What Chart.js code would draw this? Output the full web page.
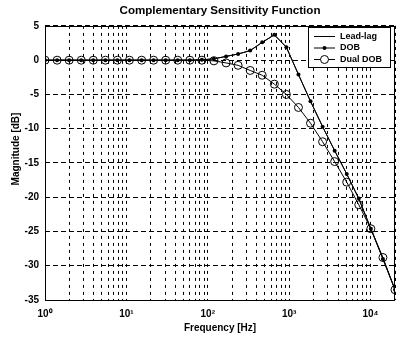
<!DOCTYPE html>
<html>
<head>
<meta charset="utf-8">
<script src="https://cdn.jsdelivr.net/npm/chart.js@4"></script>
<style>
  html, body { margin: 0; padding: 0; background: #fff; }
</style>
</head>
<body>
<canvas id="sensChart" width="403" height="337"></canvas>
<script>
// frequency points of the sweep (Hz)
const freqHz = [1, 1.41, 1.98, 2.79, 3.92, 5.52, 7.76, 10.9, 15.4, 21.6,
  30.4, 42.8, 60.2, 84.7, 119, 168, 236, 332, 467, 658,
  925, 1302, 1831, 2577, 3626, 5103, 7180, 10101, 14213, 20000];
// magnitudes in dB
const leadLag = [0, 0, 0, 0, 0, 0, 0, 0, 0, 0,
  0, 0, 0, 0.05, 0.2, 0.55, 0.9, 1.4, 2.6, 3.7,
  1.9, -2.1, -6.0, -9.7, -13.2, -16.6, -20.2, -24.6, -29.0, -33.5];
const dob = [0, 0, 0, 0, 0, 0, 0, 0, 0, 0,
  0, 0, 0, 0.05, 0.2, 0.55, 0.9, 1.4, 2.6, 3.7,
  1.9, -2.1, -6.0, -9.7, -13.2, -16.6, -20.2, -24.6, -29.0, -33.5];
const dualDob = [0, 0, 0, 0, 0, 0, 0, 0, 0, 0,
  0, 0, 0, 0, -0.1, -0.4, -0.75, -1.5, -2.2, -3.5,
  -5.0, -6.9, -9.2, -11.9, -14.8, -17.8, -21.1, -24.6, -28.8, -33.5];

const xDecades = [1, 10, 100, 1000, 10000];
const xDecadeLabels = ['10\u2070', '10\u00B9', '10\u00B2', '10\u00B3', '10\u2074'];
const xMax = 20000;
const yTicks = [5, 0, -5, -10, -15, -20, -25, -30, -35];
const yLabel = 'Magnitude [dB]';

const fontFam = '"Liberation Sans", Arial, Helvetica, sans-serif';

// minor ticks 1..9 in every decade
const xTickValues = [];
xDecades.forEach(d => {
  for (let m = 1; m <= 9; m++) {
    if (d * m <= xMax) xTickValues.push(d * m);
  }
});
xTickValues.push(xMax);

function toPoints(vals) {
  return vals.map((v, i) => ({ x: freqHz[i], y: v }));
}

// frame around the axes, y label and matlab style legend box
const framePlugin = {
  id: 'frameAndLegend',
  afterDraw(chart) {
    const { ctx, chartArea: a } = chart;
    ctx.save();
    ctx.strokeStyle = '#000';
    ctx.lineWidth = 1;
    ctx.setLineDash([]);
    ctx.strokeRect(Math.round(a.left) + 0.5, Math.round(a.top) + 0.5,
      Math.round(a.right - a.left) - 1, Math.round(a.bottom - a.top));

    // y axis label (sits a bit above the axis centre in the original)
    ctx.save();
    ctx.translate(16, 149);
    ctx.rotate(-Math.PI / 2);
    ctx.font = 'bold 10px ' + fontFam;
    ctx.fillStyle = '#000';
    ctx.textAlign = 'center';
    ctx.textBaseline = 'middle';
    ctx.fillText(yLabel, 0, 0);
    ctx.restore();

    // legend
    const bx = 308.5, by = 27.5, bw = 82, bh = 40;
    ctx.fillStyle = '#fff';
    ctx.fillRect(bx, by, bw, bh);
    ctx.strokeRect(bx, by, bw, bh);
    ctx.font = 'bold 9px ' + fontFam;
    ctx.textBaseline = 'middle';
    ctx.textAlign = 'left';
    const rows = [36, 47.5, 59];
    chart.data.datasets.forEach((ds, i) => {
      const y = rows[i];
      ctx.beginPath();
      ctx.moveTo(314, y + 0.5);
      ctx.lineTo(335, y + 0.5);
      ctx.stroke();
      if (ds.pointRadius > 0) {
        ctx.beginPath();
        ctx.arc(324.5, y + 0.5, ds.pointRadius, 0, Math.PI * 2);
        if (ds.pointBackgroundColor === '#000') {
          ctx.fillStyle = '#000';
          ctx.fill();
        } else {
          ctx.fillStyle = '#fff';
          ctx.fill();
          ctx.stroke();
        }
      }
      ctx.fillStyle = '#000';
      ctx.fillText(ds.label, 340, y + 0.5);
    });
    ctx.restore();
  }
};

const sensChart = new Chart(document.getElementById('sensChart'), {
  type: 'line',
  data: {
    datasets: [
      {
        label: 'Lead-lag',
        data: toPoints(leadLag),
        borderColor: '#000',
        borderWidth: 1,
        pointRadius: 0
      },
      {
        label: 'DOB',
        data: toPoints(dob),
        borderColor: '#000',
        borderWidth: 1,
        pointRadius: 2,
        pointBackgroundColor: '#000',
        pointBorderWidth: 0
      },
      {
        label: 'Dual DOB',
        data: toPoints(dualDob),
        borderColor: '#000',
        borderWidth: 1,
        pointRadius: 4,
        pointBackgroundColor: 'rgba(0,0,0,0)',
        pointBorderColor: '#000',
        pointBorderWidth: 1
      }
    ]
  },
  options: {
    responsive: false,
    animation: false,
    layout: { padding: { left: 0, right: 0, top: 0, bottom: 0 } },
    plugins: {
      legend: { display: false },
      tooltip: { enabled: false },
      title: {
        display: true,
        fullSize: false,
        text: 'Complementary Sensitivity Function',
        color: '#000',
        font: { family: fontFam, size: 11.6, weight: 'bold' },
        padding: { top: 4, bottom: 8 }
      }
    },
    scales: {
      x: {
        type: 'logarithmic',
        min: 1,
        max: xMax,
        afterBuildTicks: scale => {
          scale.ticks = xTickValues.map(v => ({ value: v }));
        },
        afterFit: scale => { scale.height = 37; },
        ticks: {
          autoSkip: false,
          maxRotation: 0,
          padding: 8,
          color: '#000',
          font: { family: fontFam, size: 10, weight: 'bold' },
          callback: value => {
            const idx = xDecades.indexOf(value);
            return idx >= 0 ? xDecadeLabels[idx] : '';
          }
        },
        grid: { color: '#000', lineWidth: 1, drawTicks: false },
        border: { display: false, dash: [3, 4] },
        title: {
          display: true,
          text: 'Frequency [Hz]',
          color: '#000',
          font: { family: fontFam, size: 10, weight: 'bold' },
          padding: 3
        }
      },
      y: {
        min: -35,
        max: 5,
        afterBuildTicks: scale => {
          scale.ticks = yTicks.map(v => ({ value: v }));
        },
        afterFit: scale => { scale.width = 45; },
        ticks: {
          padding: 6,
          color: '#000',
          font: { family: fontFam, size: 10, weight: 'bold' }
        },
        grid: { color: '#000', lineWidth: 1, drawTicks: false },
        border: { display: false, dash: [5, 3] }
      }
    }
  },
  plugins: [framePlugin]
});
</script>
</body>
</html>
